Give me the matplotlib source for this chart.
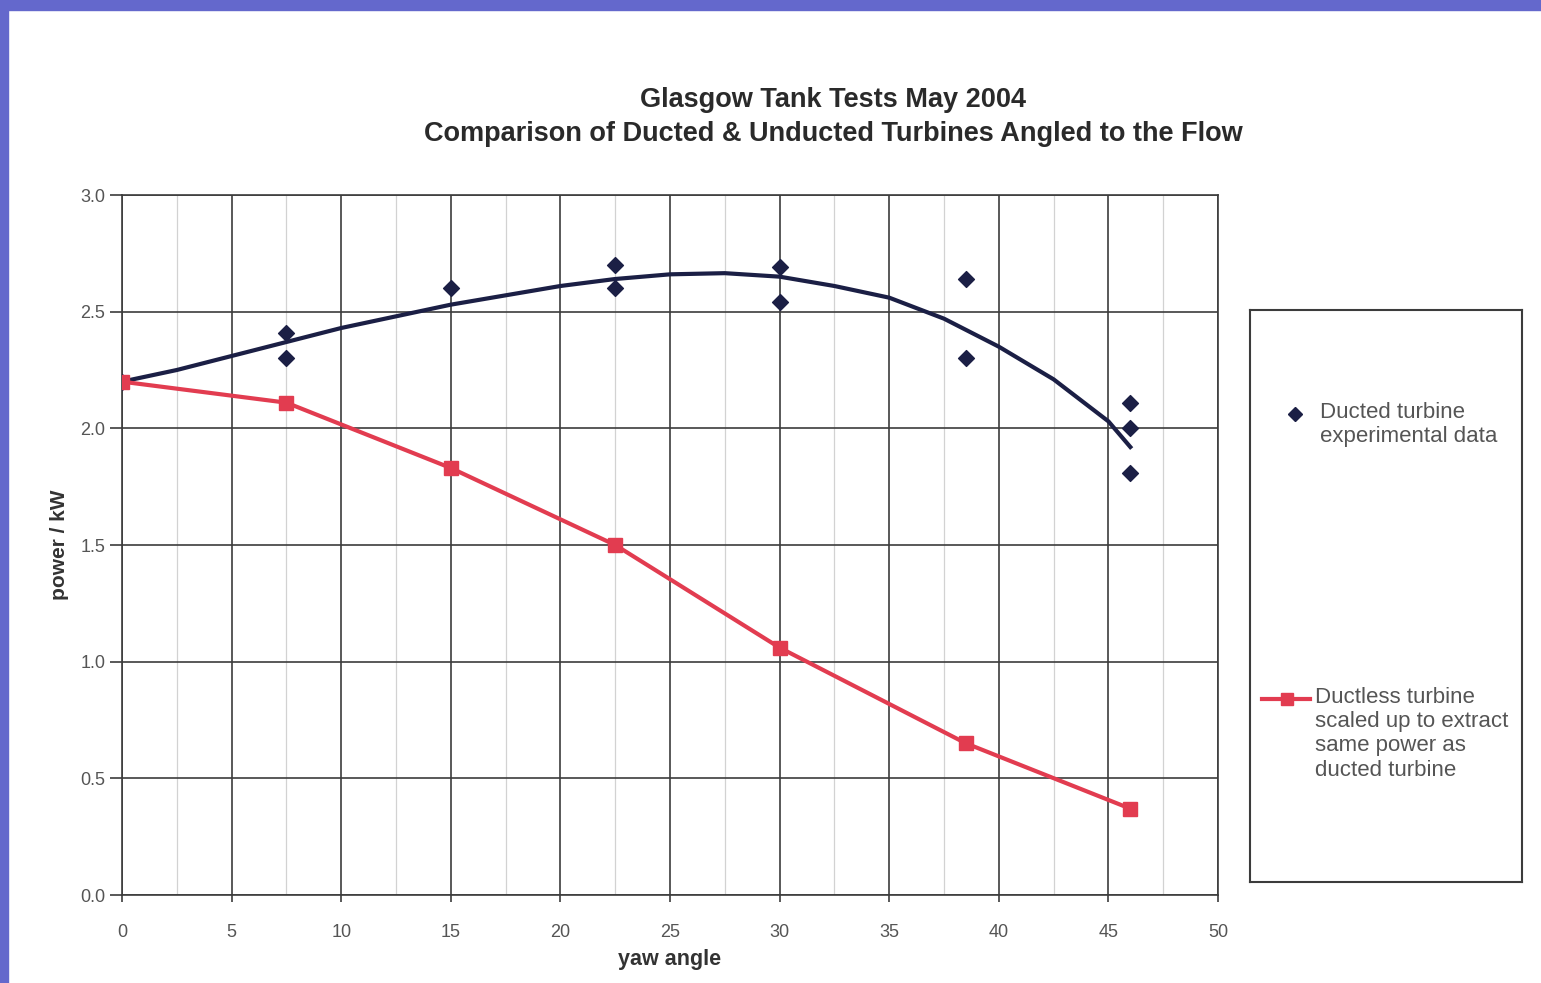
import matplotlib.pyplot as plt
from matplotlib.patches import Rectangle
from matplotlib.ticker import MultipleLocator

plt.rcParams['font.family'] = ['Liberation Sans', 'DejaVu Sans']

# -- Data --

# ducted turbine, experimental points (several runs per yaw angle)
ducted_yaw = [0, 7.5, 7.5, 15, 22.5, 22.5, 30, 30, 38.5, 38.5, 46, 46, 46]
ducted_power = [2.20, 2.41, 2.30, 2.60, 2.70, 2.60, 2.69, 2.54, 2.64, 2.30,
                2.11, 2.00, 1.81]

# trend line through the ducted data, read at intervals along the curve
trend_yaw = [0, 2.5, 5, 7.5, 10, 12.5, 15, 17.5, 20, 22.5, 25, 27.5, 30,
             32.5, 35, 37.5, 40, 42.5, 45, 46]
trend_power = [2.20, 2.25, 2.31, 2.37, 2.43, 2.48, 2.53, 2.57, 2.61, 2.64,
               2.66, 2.665, 2.65, 2.61, 2.56, 2.47, 2.35, 2.21, 2.03, 1.92]

# ductless turbine scaled up to the same power
ductless_yaw = [0, 7.5, 15, 22.5, 30, 38.5, 46]
ductless_power = [2.20, 2.11, 1.83, 1.50, 1.06, 0.65, 0.37]

title_lines = ["Glasgow Tank Tests May 2004",
               "Comparison of Ducted & Unducted Turbines Angled to the Flow"]
ducted_label = "Ducted turbine\nexperimental data"
ductless_label = "Ductless turbine\nscaled up to extract\nsame power as\nducted turbine"

NAVY = "#1b1f45"
RED = "#e23c50"

# -- Plot --

W, H = 1541, 983
fig = plt.figure(figsize=(W / 100, H / 100), dpi=100)
fig.patch.set_facecolor("white")

# slide background peeking out at the top and left edge
fig.patches.append(Rectangle((0, 1 - 10 / H), 1, 10 / H, transform=fig.transFigure,
                             color="#6468cc", zorder=0))
fig.patches.append(Rectangle((0, 0), 8 / W, 1, transform=fig.transFigure,
                             color="#6468cc", zorder=0))

ax = fig.add_axes([122 / W, 1 - 895 / H, 1096 / W, 700 / H])

ax.plot(trend_yaw, trend_power, color=NAVY, lw=3, solid_joinstyle="round", zorder=3)
ax.scatter(ducted_yaw, ducted_power, marker="D", s=65, color=NAVY, zorder=4)
ax.plot(ductless_yaw, ductless_power, color=RED, lw=3, marker="s", ms=10,
        zorder=5)

ax.set_xlim(0, 50)
ax.set_ylim(0, 3.0)
ax.xaxis.set_major_locator(MultipleLocator(5))
ax.xaxis.set_minor_locator(MultipleLocator(2.5))
ax.yaxis.set_major_locator(MultipleLocator(0.5))
ax.yaxis.set_major_formatter(lambda v, p: f"{v:.1f}")

ax.grid(which="major", color="#3c3c3c", lw=1.2)
ax.grid(which="minor", axis="x", color="#d2d2d2", lw=0.9)
ax.set_axisbelow(True)
for s in ax.spines.values():
    s.set_color("#3c3c3c")
    s.set_linewidth(1.2)

ax.tick_params(axis="y", which="major", direction="out", length=9, width=1.2,
               color="#3c3c3c", labelsize=13, labelcolor="#555555", pad=3)
ax.tick_params(axis="x", which="major", direction="out", length=5, width=1.2,
               color="#3c3c3c", labelsize=13, labelcolor="#555555", pad=16)
ax.tick_params(axis="x", which="minor", length=0)

ax.set_xlabel("yaw angle", fontsize=15.5, fontweight="bold", color="#333333",
              labelpad=6)
ax.set_ylabel("power / kW", fontsize=15, fontweight="bold", color="#333333",
              labelpad=8)

fig.text(833 / W, 1 - 100 / H, title_lines[0], ha="center", va="center",
         fontsize=19.5, fontweight="bold", color="#2a2a2a")
fig.text(833 / W, 1 - 134 / H, title_lines[1], ha="center", va="center",
         fontsize=19.5, fontweight="bold", color="#2a2a2a")

# legend box
lax = fig.add_axes([1250 / W, 1 - 882 / H, 272 / W, 572 / H])
lax.set_xlim(0, 272)
lax.set_ylim(572, 0)
lax.set_xticks([])
lax.set_yticks([])
for s in lax.spines.values():
    s.set_color("#3c3c3c")
    s.set_linewidth(1.5)

lax.plot([45], [104], marker="D", ms=7, color=NAVY, ls="none")
lax.text(70, 92, ducted_label, fontsize=16, color="#555555", va="top",
         linespacing=1.2)
lax.plot([12, 60], [389, 389], color=RED, lw=3)
lax.plot([37], [389], marker="s", ms=9, color=RED)
lax.text(65, 377, ductless_label, fontsize=16, color="#555555", va="top",
         linespacing=1.2)

fig.savefig("out.png", dpi=100)
